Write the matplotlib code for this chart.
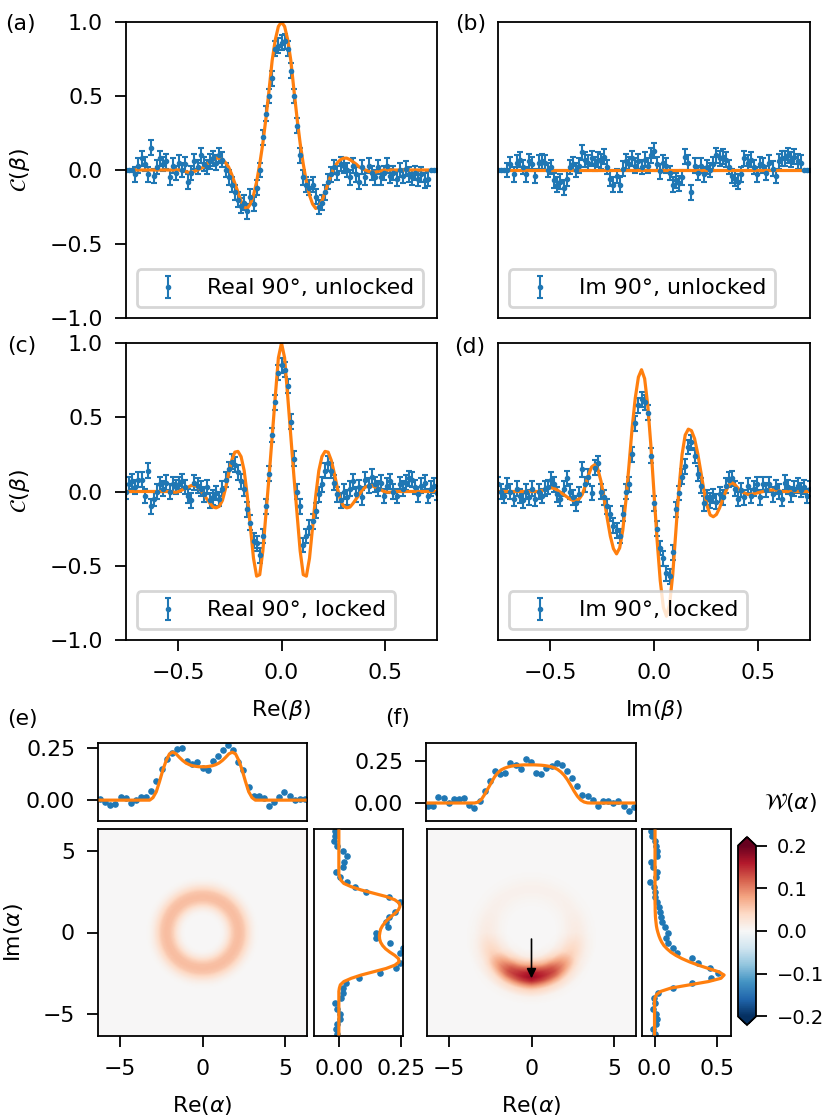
import numpy as np
import matplotlib
matplotlib.use("Agg")
import matplotlib.pyplot as plt

nan = np.nan

# ---------------- characteristic function cuts, panels (a)-(d) ----------------
# beta sample positions: -0.75 ... 0.75 in steps of 0.015 (101 points)
BETA = np.linspace(-0.75, 0.75, 101)
ERR = 0.05

DATA_A = [
    0, 0, 0, -0.03, 0.03, 0.08, 0.04, -0.03, 0.15, -0.04,
    0.02, 0.08, 0.04, 0.06, -0.05, 0.03, -0.02, 0.05, 0.0, 0.04,
    -0.08, -0.02, 0.06, 0.02, 0.1, 0.04, 0.02, 0.06, 0.08, 0.05,
    0.1, 0.07, 0.0, -0.05, -0.1, -0.15, -0.2, -0.24, -0.22, -0.28,
    -0.18, -0.23, -0.12, 0.0, 0.22, 0.38, 0.5, 0.62, 0.82, 0.84,
    0.86,
    0.87, 0.82, 0.67, 0.5, 0.3, 0.1, -0.05, -0.1, -0.12, -0.1,
    -0.18, -0.25, -0.22, -0.15, -0.08, -0.03, 0.02, -0.02, 0.04, 0.03,
    0.0, -0.05, 0.03, -0.03, -0.08, 0.02, -0.05, 0.03, -0.02, -0.05,
    0.02, -0.05, -0.02, 0.03, -0.04, -0.02, -0.06, 0.0, -0.04, 0.01,
    -0.03, -0.05, -0.02, -0.06, -0.03, -0.07, -0.06, 0, 0, 0]
FIT_A = [
    nan, nan, nan, 0, 0, 0, 0, 0, 0, 0,
    0, 0, 0, 0, 0, 0, 0, 0, -0.005, -0.01,
    -0.015, -0.015, -0.01, 0.0, 0.01, 0.02, 0.04, 0.055, 0.07, 0.08,
    0.08, 0.07, 0.05, 0.02, -0.03, -0.09, -0.15, -0.21, -0.25, -0.26,
    -0.23, -0.17, -0.08, 0.04, 0.18, 0.35, 0.54, 0.74, 0.88, 0.97,
    1.0,
    0.97, 0.88, 0.74, 0.54, 0.35, 0.18, 0.04, -0.08, -0.17, -0.23,
    -0.26, -0.25, -0.21, -0.15, -0.09, -0.03, 0.02, 0.05, 0.07, 0.08,
    0.08, 0.07, 0.055, 0.04, 0.02, 0.01, 0.0, -0.01, -0.015, -0.015,
    -0.01, -0.005, 0, 0, 0, 0, 0, 0, 0, 0,
    0, 0, 0, 0, 0, 0, 0, nan, nan, nan]

DATA_B = [
    0, 0, 0, 0.0, 0.04, -0.03, 0.05, 0.07, 0.02, -0.03,
    0.06, 0.04, -0.04, 0.05, 0.06, 0.05, 0.0, 0.02, -0.07, -0.1,
    -0.08, -0.12, -0.06, 0.02, 0.04, 0.0, 0.03, 0.12, 0.07, 0.05,
    0.08, 0.04, 0.07, 0.06, 0.09, 0.02, -0.06, -0.1, -0.04, -0.1,
    0.01, 0.06, 0.04, 0.08, 0.03, 0.06, 0.02, 0.07, 0.03, 0.1,
    0.13,
    0.04, -0.01, 0.05, 0.03, -0.02, -0.1, -0.07, -0.09, -0.05, 0.09,
    0.05, -0.15, 0.03, -0.02, 0.03, -0.03, 0.02, 0.0, 0.04, 0.1,
    0.08, 0.09, 0.07, 0.02, -0.04, -0.06, -0.08, -0.03, 0.08, 0.05,
    0.07, 0.02, -0.03, 0.04, 0.03, -0.02, 0.05, 0.01, -0.04, 0.06,
    0.08, 0.08, 0.1, 0.07, 0.09, 0.06, 0.05, 0, 0, 0]
FIT_B = [nan] * 3 + [0.0] * 95 + [nan] * 3

DATA_C = [
    0.0, 0.05, 0.07, 0.03, 0.08, 0.08, -0.03, 0.14, -0.1, -0.05,
    0.0, 0.05, 0.02, 0.06, 0.0, 0.05, 0.03, 0.05, 0.07, 0.03,
    -0.03, -0.06, 0.06, 0.04, 0.02, -0.02, 0.03, -0.06, -0.04, -0.01,
    -0.05, 0.02, 0.08, 0.15, 0.2, 0.18, 0.13, 0.07, 0.02, -0.12,
    -0.21, -0.33, -0.35, -0.43, -0.3, -0.1, 0.12, 0.38, 0.6, 0.8,
    0.85,
    0.82, 0.71, 0.47, 0.22, 0.0, -0.1, -0.36, -0.3, -0.24, -0.2,
    -0.13, -0.02, 0.05, 0.14, 0.19, 0.14, 0.06, -0.02, -0.06, 0.0,
    -0.04, 0.02, 0.07, -0.02, 0.03, -0.04, 0.08, 0.04, 0.1, 0.05,
    0.02, 0.06, -0.03, 0.04, 0.07, 0.0, -0.03, 0.05, 0.02, 0.06,
    0.09, 0.08, 0.03, -0.02, 0.04, 0.06, -0.03, 0.02, 0.04, -0.01]
FIT_C = [
    0, 0, 0, 0, 0, 0, 0, 0, 0, 0,
    0, 0, 0, 0, 0, -0.005, -0.005, 0.0, 0.01, 0.02,
    0.03, 0.04, 0.04, 0.03, 0.01, -0.02, -0.05, -0.08, -0.105, -0.11,
    -0.1, -0.06, 0.02, 0.12, 0.21, 0.265, 0.27, 0.235, 0.14, -0.03,
    -0.24, -0.45, -0.57, -0.56, -0.4, -0.15, 0.1, 0.37, 0.64, 0.9,
    1.0,
    0.9, 0.64, 0.37, 0.1, -0.15, -0.4, -0.56, -0.57, -0.45, -0.24,
    -0.03, 0.14, 0.235, 0.27, 0.265, 0.21, 0.12, 0.02, -0.06, -0.1,
    -0.11, -0.105, -0.08, -0.05, -0.02, 0.01, 0.03, 0.04, 0.04, 0.03,
    0.02, 0.01, 0.0, -0.005, -0.005, 0, 0, 0, 0, 0,
    0, 0, 0, 0, 0, 0, 0, 0, 0, 0]

DATA_D = [
    0.05, 0.0, -0.03, 0.04, 0.0, -0.05, 0.02, -0.03, -0.06, 0.0,
    -0.04, 0.02, -0.05, 0.0, -0.03, 0.02, 0.03, 0.08, 0.05, -0.02,
    -0.05, 0.02, 0.09, 0.0, -0.04, -0.08, -0.02, 0.15, 0.05, 0.1,
    -0.01, 0.16, 0.19, 0.0, -0.04, -0.1, -0.15, -0.23, -0.26, -0.3,
    -0.15, 0.0, 0.05, 0.25, 0.46, 0.58, 0.62, 0.6, 0.53, 0.24,
    -0.08,
    -0.25, -0.38, -0.45, -0.55, -0.57, -0.41, -0.12, -0.01, 0.1, 0.17,
    0.3, 0.33, 0.24, 0.12, 0.04, -0.08, -0.04, -0.06, -0.03, -0.07,
    -0.02, -0.04, 0.04, 0.08, 0.09, 0.02, -0.05, 0.01, -0.04, 0.04,
    -0.03, 0.02, 0.05, -0.04, 0.05, 0.01, 0.05, -0.02, 0.03, 0.0,
    -0.05, 0.06, 0.03, -0.02, 0.02, 0.04, 0.01, 0.03, -0.03, 0.02]
FIT_D = [
    0, 0, 0, 0, 0, 0, 0, 0, 0, 0,
    0, 0, 0, 0, 0.005, 0.012, 0.02, 0.025, 0.02, 0.01,
    -0.005, -0.02, -0.035, -0.05, -0.06, -0.06, -0.05, -0.02, 0.04, 0.11,
    0.165, 0.18, 0.15, 0.07, -0.045, -0.18, -0.3, -0.385, -0.42, -0.38,
    -0.26, -0.06, 0.18, 0.43, 0.63, 0.77, 0.82, 0.76, 0.58, 0.31,
    -0.01,
    -0.33, -0.6, -0.78, -0.84, -0.76, -0.56, -0.27, 0.02, 0.25, 0.38,
    0.42, 0.41, 0.356, 0.257, 0.134, 0.007, -0.095, -0.158, -0.17, -0.155,
    -0.112, -0.055, 0.0, 0.045, 0.06, 0.045, 0.02, 0.0, -0.01, -0.02,
    -0.02, -0.015, -0.01, -0.005, 0.0, 0.005, 0.01, 0.01, 0.01, 0.005,
    0, 0, 0, 0, 0, 0, 0, 0, 0, 0]

LEGENDS = ["Real 90°, unlocked", "Im 90°, unlocked",
           "Real 90°, locked", "Im 90°, locked"]

# ---------------- Wigner function marginals, panels (e)-(f) ----------------
ALPHA_PTS = np.linspace(-6.2, 6.2, 41)     # measured marginal sample points
ALPHA_FIT = np.linspace(-6.2, 6.2, 63)     # fitted marginal sample points

E_TOP_DATA = [0.005, -0.011, -0.024, -0.017, 0.014, 0.008, -0.016, 0.002, 0.017, 0.014,
              0.046, 0.092, 0.149, 0.198, 0.227, 0.247, 0.25, 0.19, 0.173, 0.182,
              0.154, 0.144, 0.19, 0.214, 0.24, 0.266, 0.242, 0.182, 0.143, 0.062,
              0.022, 0.022, 0.008, -0.027, -0.011, 0.014, 0.041, 0.022, 0.003, 0.006, 0.006]
E_TOP_FIT = ([0.0] * 15 +
             [0.0, 0.012, 0.04, 0.09, 0.145, 0.19, 0.222, 0.23, 0.222, 0.205,
              0.19, 0.178, 0.17, 0.165, 0.162, 0.16,
              0.16,
              0.16, 0.162, 0.165, 0.17, 0.178, 0.19, 0.205, 0.222, 0.23, 0.222,
              0.19, 0.145, 0.09, 0.04, 0.012, 0.0] +
             [0.0] * 15)
E_RIGHT_DATA = [-0.007, -0.01, -0.007, 0.005, 0.005, -0.007, -0.014, 0.01, 0.017, 0.017,
                0.03, 0.082, 0.165, 0.23, 0.246, 0.27, 0.246, 0.26, 0.207, 0.15,
                0.15, 0.197, 0.19, 0.2, 0.224, 0.27, 0.246, 0.2, 0.11, 0.065,
                0.034, 0.005, -0.012, 0.017, 0.02, 0.034, 0.017, -0.007, -0.02, -0.016, -0.016]
E_RIGHT_FIT = ([0.0] * 14 +
               [0.002, 0.006, 0.02, 0.05, 0.09, 0.14, 0.19, 0.225, 0.242, 0.24,
                0.225, 0.205, 0.188, 0.176, 0.168, 0.164, 0.163,
                0.165,
                0.168, 0.175, 0.185, 0.197, 0.212, 0.228, 0.24, 0.246, 0.243, 0.225,
                0.19, 0.14, 0.09, 0.05, 0.02, 0.008, 0.003] +
               [0.0] * 14)

F_TOP_DATA = [-0.02, -0.02, 0.035, 0.03, 0.0, 0.024, 0.024, 0.03, -0.014, -0.03,
              0.01, 0.07, 0.13, 0.19, 0.17, 0.18, 0.24, 0.227, 0.2, 0.26,
              0.246, 0.18, 0.17, 0.207, 0.22, 0.237, 0.227, 0.19, 0.15, 0.1,
              0.05, 0.04, 0.016, -0.016, 0.01, 0.01, 0.0, 0.01, -0.02, -0.045, -0.024]
F_TOP_FIT = ([0.0] * 14 +
             [0.0, 0.005, 0.02, 0.05, 0.085, 0.12, 0.155, 0.18, 0.197, 0.207,
              0.214, 0.219, 0.222, 0.224, 0.226, 0.227, 0.227,
              0.227,
              0.227, 0.226, 0.225, 0.223, 0.22, 0.216, 0.21, 0.2, 0.185, 0.165,
              0.138, 0.105, 0.07, 0.04, 0.018, 0.006, 0.001] +
             [0.0] * 14)
F_RIGHT_DATA = [0.0, -0.01, 0.008, 0.02, 0.015, -0.013, 0.005, -0.008, 0.03, 0.15,
                0.3, 0.45, 0.51, 0.44, 0.35, 0.3, 0.18, 0.15, 0.11, 0.09,
                0.11, 0.08, 0.062, 0.05, 0.04, 0.035, 0.02, 0.0, 0.0, -0.008,
                -0.04, 0.01, 0.02, -0.013, -0.027, 0.02, 0.02, 0.013, 0.0, -0.02, -0.027]
F_RIGHT_FIT = ([0.0] * 11 +
               [0.003, 0.015, 0.05, 0.13, 0.28, 0.43, 0.53, 0.555, 0.51, 0.43,
                0.35, 0.28, 0.22, 0.17, 0.13, 0.1, 0.075, 0.058, 0.045, 0.035,
                0.027, 0.02, 0.015, 0.012, 0.009, 0.007, 0.006, 0.005, 0.005, 0.004,
                0.004] +
               [0.004] * 21)

# Wigner function maps: radial profile (ring) and radial x angular profile (crescent)
RING_R = [0, 0.5, 1.0, 1.25, 1.5, 1.75, 2.0, 2.25, 2.5, 2.75, 3.0, 3.25, 3.5, 9.0]
RING_W = [0, 0, 0.0, 0.005, 0.02, 0.045, 0.06, 0.062, 0.055, 0.035, 0.015, 0.004, 0, 0]

CRES_PEAK = 0.175
CRES_R = [0, 1.0, 1.5, 2.0, 2.25, 2.5, 2.75, 3.0, 3.25, 3.5, 4.0, 4.5, 9.0]
CRES_RAD = [0, 0, 0.08, 0.45, 0.75, 0.95, 1.0, 0.85, 0.55, 0.28, 0.04, 0, 0]
CRES_ANG = [-180, -150, -120, -90, -60, -30, 0, 30, 60, 90, 120, 150, 180]
CRES_ANGW = [0.1, 0.28, 0.75, 1.0, 0.75, 0.28, 0.1, 0.06, 0.05, 0.05, 0.05, 0.06, 0.1]

plt.rcParams.update({
    'font.size': 15.8,
    'axes.linewidth': 1.3,
    'xtick.major.size': 8, 'ytick.major.size': 8,
    'xtick.major.width': 1.3, 'ytick.major.width': 1.3,
    'xtick.major.pad': 8.5, 'ytick.major.pad': 8.5,
})

W, H = 831, 1118
fig = plt.figure(figsize=(W / 100, H / 100), dpi=100)


def box(x0, y0, x1, y1):
    """Axes rectangle from pixel corners (top-left origin)."""
    return [x0 / W, 1 - y1 / H, (x1 - x0) / W, (y1 - y0) / H]


top_axes = [fig.add_axes(box(126, 22, 437, 318)), fig.add_axes(box(498, 22, 810, 318)),
            fig.add_axes(box(126, 343, 437, 640)), fig.add_axes(box(498, 343, 810, 640))]
datasets = [(DATA_A, FIT_A), (DATA_B, FIT_B), (DATA_C, FIT_C), (DATA_D, FIT_D)]

for n, (ax, (d, f)) in enumerate(zip(top_axes, datasets)):
    fit = np.array(f, dtype=float)
    yerr = np.where(np.isnan(fit), 0.0, ERR)
    ax.errorbar(BETA, d, yerr=yerr, fmt='o', ms=3, color='C0', capsize=2,
                elinewidth=1.5, capthick=1.5, label=LEGENDS[n])
    ax.plot(BETA, fit, color='C1', lw=2.3)
    ax.set_xlim(-0.75, 0.75)
    ax.set_ylim(-1, 1)
    ax.set_xticks([-0.5, 0, 0.5])
    ax.set_yticks([-1, -0.5, 0, 0.5, 1])
    leg = ax.legend(loc='lower left')
    leg.get_frame().set_linewidth(2.0)
    if n < 2:
        ax.tick_params(axis='x', bottom=False, labelbottom=False)
    if n % 2 == 1:
        ax.tick_params(axis='y', left=False, labelleft=False)
    else:
        ax.set_ylabel(r'$\mathcal{C}(\beta)$', labelpad=13)
top_axes[2].set_xlabel(r'Re($\beta$)', labelpad=11)
top_axes[3].set_xlabel(r'Im($\beta$)', labelpad=11)

# ---------------- bottom row ----------------
grid = np.linspace(-6.33, 6.33, 181)
XX, YY = np.meshgrid(grid, grid)
RR = np.hypot(XX, YY)
TH = np.degrees(np.arctan2(YY, XX))
W_e = np.interp(RR, RING_R, RING_W)
W_f = CRES_PEAK * np.interp(RR, CRES_R, CRES_RAD) * np.interp(TH, CRES_ANG, CRES_ANGW)

lim = 6.33
groups = [
    (box(98, 743, 307, 821), box(98, 829, 307, 1036), box(314, 829, 403, 1036),
     W_e, E_TOP_DATA, E_TOP_FIT, E_RIGHT_DATA, E_RIGHT_FIT,
     (-0.1, 0.274), [0, 0.25], (-0.1, 0.258), [0, 0.25]),
    (box(426, 743, 636, 821), box(427, 829, 636, 1036), box(642, 829, 731, 1036),
     W_f, F_TOP_DATA, F_TOP_FIT, F_RIGHT_DATA, F_RIGHT_FIT,
     (-0.107, 0.357), [0, 0.25], (-0.1, 0.61), [0, 0.5]),
]

for g, (rt, rm, rr, wig, td, tf, rd, rf, tylim, tyt, rxlim, rxt) in enumerate(groups):
    ax_t = fig.add_axes(rt)
    ax_m = fig.add_axes(rm)
    ax_r = fig.add_axes(rr)

    im = ax_m.imshow(wig, origin='lower', extent=[-lim, lim, -lim, lim], cmap='RdBu_r',
                     vmin=-0.2, vmax=0.2, aspect='auto', interpolation='bilinear')
    ax_m.set_xlim(-lim, lim)
    ax_m.set_ylim(-lim, lim)
    ax_m.set_xticks([-5, 0, 5])
    ax_m.set_xlabel(r'Re($\alpha$)', labelpad=11)
    if g == 0:
        ax_m.set_yticks([-5, 0, 5])
        ax_m.set_ylabel(r'Im($\alpha$)', labelpad=13)
    else:
        ax_m.set_yticks([])
        ax_m.annotate('', xy=(0, -2.8), xytext=(0, -0.4),
                      arrowprops=dict(arrowstyle='-|>', color='k', lw=1.2,
                                      mutation_scale=14, shrinkA=0, shrinkB=0))

    ax_t.scatter(ALPHA_PTS, td, s=14, color='C0', zorder=2)
    ax_t.plot(ALPHA_FIT, tf, color='C1', lw=2.3, zorder=3)
    ax_t.set_xlim(-lim, lim)
    ax_t.set_ylim(*tylim)
    ax_t.set_xticks([])
    ax_t.set_yticks(tyt)
    ax_t.set_yticklabels(['0.00', '0.25'])

    ax_r.scatter(rd, ALPHA_PTS, s=14, color='C0', zorder=2)
    ax_r.plot(rf, ALPHA_FIT, color='C1', lw=2.3, zorder=3)
    ax_r.set_ylim(-lim, lim)
    ax_r.set_xlim(*rxlim)
    ax_r.set_yticks([])
    ax_r.set_xticks(rxt)
    if g == 0:
        ax_r.set_xticklabels(['0.00', '0.25'])
    else:
        ax_r.set_xticklabels(['0.0', '0.5'])

cax = fig.add_axes(box(738, 837, 756, 1025))
cb = fig.colorbar(im, cax=cax, extend='both', ticks=[-0.2, -0.1, 0, 0.1, 0.2])
cb.outline.set_linewidth(1.3)
cax.tick_params(labelsize=14, pad=7)
fig.text(790 / W, 1 - 802 / H, r'$\mathcal{W}(\alpha)$', ha='center', va='center')

for lab, x, y in [('(a)', 20, 24), ('(b)', 471, 24), ('(c)', 22, 346), ('(d)', 470, 347),
                  ('(e)', 22, 719), ('(f)', 398, 718)]:
    fig.text(x / W, 1 - y / H, lab, ha='center', va='center')

fig.savefig('out.png', dpi=100)
